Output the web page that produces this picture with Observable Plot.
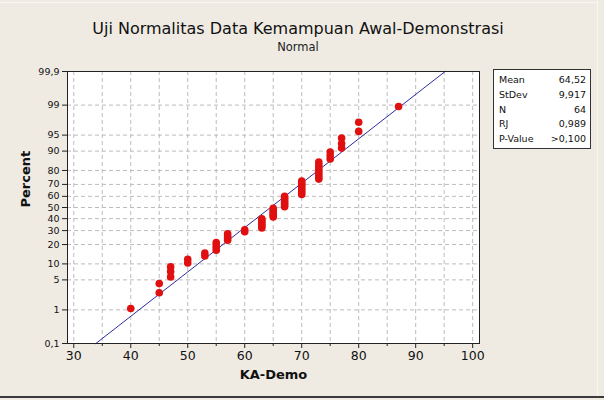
<!DOCTYPE html>
<html>
<head>
<meta charset="utf-8">
<script src="https://cdn.jsdelivr.net/npm/d3@7"></script>
<script src="https://cdn.jsdelivr.net/npm/@observablehq/plot@0.6"></script>
<style>
  html, body { margin: 0; padding: 0; background: #EFEBE3; }
  #wrap { position: relative; width: 604px; height: 400px; background: #EFEBE3; overflow: hidden; font-family: "DejaVu Sans", sans-serif; }
  #title { position: absolute; left: 0; width: 596px; top: 19px; text-align: center; font-size: 16px; color: #111; }
  #subtitle { position: absolute; left: 0; width: 596px; top: 40px; text-align: center; font-size: 11.5px; color: #222; }
  #stats { position: absolute; left: 493px; top: 69px; width: 96px; height: 78px; border: 1px solid #333; background: #fff; font-size: 9.5px; color: #111; }
  .row { position: absolute; left: 5px; right: 4px; height: 14px; }
  .row .k { position: absolute; left: 0; }
  .row .v { position: absolute; right: 0; }
  #bottomline { position: absolute; left: 0; top: 396px; width: 604px; height: 2px; background: #3a3a3a; }
  #rightline { position: absolute; left: 597px; top: 0; width: 1px; height: 396px; background: #f8f6f2; }
  #topline { position: absolute; left: 0; top: 2px; width: 597px; height: 1px; background: #f8f6f2; }
  svg { position: absolute; left: 0; top: 0; }
</style>
</head>
<body>
<div id="wrap">
  <div id="topline"></div>
  <div id="rightline"></div>
  <div id="title"></div>
  <div id="subtitle"></div>
  <div id="stats"></div>
  <div id="bottomline"></div>
</div>
<script>
// ---- Data ----
const titleText = "Uji Normalitas Data Kemampuan Awal-Demonstrasi";
const subtitleText = "Normal";
const xLabel = "KA-Demo";
const yLabel = "Percent";
const values = [40, 45, 47, 50, 53, 55, 57, 60, 63, 65, 67, 70, 73, 75, 77, 80, 87];
const counts = [1, 2, 3, 2, 2, 4, 4, 2, 6, 6, 7, 8, 8, 3, 3, 2, 1];
const percentTicks = [0.1, 1, 5, 10, 20, 30, 40, 50, 60, 70, 80, 90, 95, 99, 99.9];
const percentLabels = ["0,1", "1", "5", "10", "20", "30", "40", "50", "60", "70", "80", "90", "95", "99", "99,9"];
const xTicks = [30, 40, 50, 60, 70, 80, 90, 100];
const xMinorTicks = [35, 45, 55, 65, 75, 85, 95];
const xGrid = [30, 35, 40, 45, 50, 55, 60, 65, 70, 75, 80, 85, 90, 95, 100];
const statLabels = ["Mean", "StDev", "N", "RJ", "P-Value"];
const statValues = ["64,52", "9,917", "64", "0,989", ">0,100"];
const mean = 64.52;
const stdev = 9.917;

// inverse standard normal CDF (Acklam)
function probit(p) {
  const a = [-3.969683028665376e+01, 2.209460984245205e+02, -2.759285104469687e+02, 1.383577518672690e+02, -3.066479806614716e+01, 2.506628277459239e+00];
  const b = [-5.447609879822406e+01, 1.615858368580409e+02, -1.556989798598866e+02, 6.680131188771972e+01, -1.328068155288572e+01];
  const c = [-7.784894002430293e-03, -3.223964580411365e-01, -2.400758277161838e+00, -2.549732539343734e+00, 4.374664141464968e+00, 2.938163982698783e+00];
  const d = [7.784695709041462e-03, 3.224671290700398e-01, 2.445134137142996e+00, 3.754408661907416e+00];
  const pl = 0.02425, ph = 1 - pl;
  let q, r;
  if (p < pl) { q = Math.sqrt(-2 * Math.log(p)); return (((((c[0]*q+c[1])*q+c[2])*q+c[3])*q+c[4])*q+c[5]) / ((((d[0]*q+d[1])*q+d[2])*q+d[3])*q+1); }
  if (p <= ph) { q = p - 0.5; r = q*q; return (((((a[0]*r+a[1])*r+a[2])*r+a[3])*r+a[4])*r+a[5])*q / (((((b[0]*r+b[1])*r+b[2])*r+b[3])*r+b[4])*r+1); }
  q = Math.sqrt(-2 * Math.log(1 - p));
  return -(((((c[0]*q+c[1])*q+c[2])*q+c[3])*q+c[4])*q+c[5]) / ((((d[0]*q+d[1])*q+d[2])*q+d[3])*q+1);
}

// Expand observations and compute median-rank plotting positions
const obs = [];
values.forEach((v, i) => { for (let k = 0; k < counts[i]; k++) obs.push(v); });
obs.sort((a, b) => a - b);
const n = obs.length;
const points = obs.map((v, i) => ({ x: v, z: probit((i + 1 - 0.3) / (n + 0.4)) }));

const zTicks = percentTicks.map(p => probit(p / 100));
const labelOf = new Map(zTicks.map((z, i) => [z, percentLabels[i]]));
const zMin = probit(0.001), zMax = probit(0.999);
const fitLine = [zMin, zMax].map(z => ({ x: mean + stdev * z, z }));

document.getElementById("title").textContent = titleText;
document.getElementById("subtitle").textContent = subtitleText;
const stats = document.getElementById("stats");
statLabels.forEach((k, i) => {
  const row = document.createElement("div");
  row.className = "row";
  row.style.top = (4 + i * 14.8) + "px";
  row.innerHTML = `<span class="k">${k}</span><span class="v">${statValues[i]}</span>`;
  stats.appendChild(row);
});

const gridStyle = { stroke: "#bcbcbc", strokeOpacity: 1, strokeDasharray: "4,3", strokeWidth: 1 };

const chart = Plot.plot({
  width: 604,
  height: 400,
  marginLeft: 67,
  marginRight: 125,
  marginTop: 71,
  marginBottom: 57,
  style: { background: "transparent", fontFamily: "DejaVu Sans, sans-serif", color: "#111" },
  x: { domain: [28.9, 101.2] },
  y: { domain: [zMin, zMax] },
  marks: [
    Plot.frame({ fill: "#fff", stroke: "none" }),
    Plot.gridX(xGrid, gridStyle),
    Plot.gridY(zTicks.slice(1, -1), gridStyle),
    Plot.line(fitLine, { x: "x", y: "z", stroke: "#2c2ca0", strokeWidth: 1 }),
    Plot.dot(points, { x: "x", y: "z", r: 3.8, fill: "#e01010", stroke: "none" }),
    Plot.frame({ stroke: "#222", strokeWidth: 1 }),
    Plot.axisX(xTicks, { tickSize: 5, tickPadding: 3, fontSize: 12.5, label: null, stroke: "#222" }),
    Plot.axisX(xMinorTicks, { tickSize: 3, tickFormat: null, label: null, stroke: "#222", text: null }),
    Plot.axisY(zTicks, { tickSize: 5, tickPadding: 3, fontSize: 9.5, tickFormat: z => labelOf.get(z), label: null, stroke: "#222" }),
    Plot.text([xLabel], { frameAnchor: "bottom", dy: 35, fontSize: 13, fontWeight: "bold", text: d => d }),
    Plot.text([yLabel], { frameAnchor: "left", dx: -42, rotate: -90, fontSize: 13, fontWeight: "bold", text: d => d })
  ]
});
document.getElementById("wrap").insertBefore(chart, document.getElementById("title"));
</script>
</body>
</html>
